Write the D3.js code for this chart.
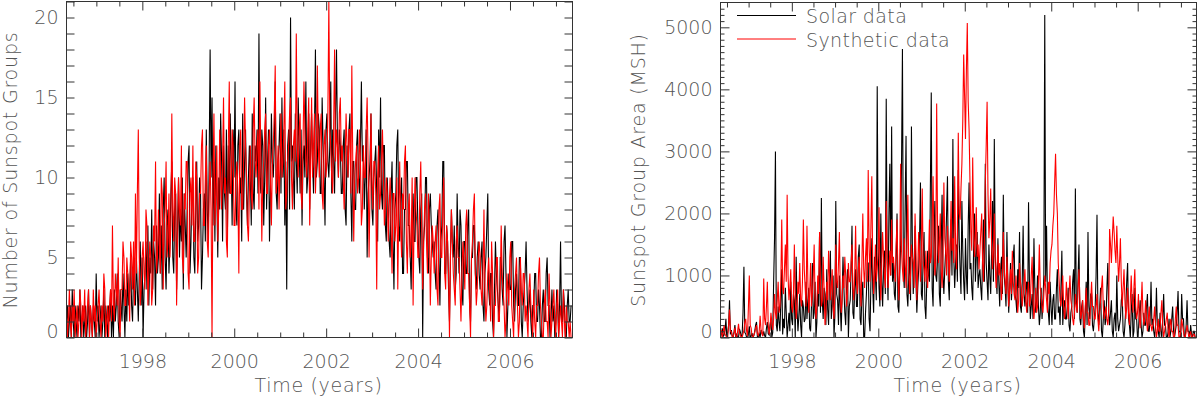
<!DOCTYPE html>
<html>
<head>
<meta charset="utf-8">
<script src="https://cdn.jsdelivr.net/npm/d3@7"></script>
<style>
  body { margin: 0; background: #fff; }
  svg { display: block; }
</style>
</head>
<body>
<svg id="chart" width="1200" height="399"></svg>
<script>
// time sampling of the series (years): one value per week-ish, 48 per year
const startYear = 1996.35;
const stepYear = 1 / 48;

const yearTicks = [1998, 2000, 2002, 2004, 2006];
const groupTicks = [0, 5, 10, 15, 20];
const areaTicks = [0, 1000, 2000, 3000, 4000, 5000];
const legendNames = ["Solar data", "Synthetic data"];

// number of sunspot groups, one line per year of data (from 1996.35)
const solarGroups = [
  1,2,0,1,2,0,3,1,0,2,1,0,2,1,3,0,1,2,0,1,2,0,1,3,0,2,1,0,2,1,0,4,1,2,0,1,2,0,1,3,0,2,1,0,2,1,3,0,
  2,0,3,1,2,4,1,0,3,2,1,4,2,0,3,1,4,2,3,5,2,1,4,3,2,5,3,1,4,6,2,5,0,3,4,6,3,7,2,5,4,8,3,6,5,2,7,4,
  5,9,4,7,3,8,10,5,3,7,8,4,6,9,11,5,4,8,9,3,7,10,5,8,6,10,3,9,7,5,8,11,12,4,6,9,10,5,4,8,11,6,7,10,9,3,5,8,
  9,6,13,8,6,11,18,10,15,7,11,6,12,9,5,10,8,14,11,6,12,9,8,13,6,12,9,14,11,7,13,10,16,8,7,12,13,9,10,6,14,8,11,13,9,7,10,12,
  10,7,14,9,8,12,11,13,9,19,10,9,13,12,7,10,15,8,11,13,6,9,14,11,10,12,16,9,8,11,12,14,9,15,10,13,7,11,3,12,13,8,20,11,12,10,8,14,
  11,9,15,12,9,13,7,11,12,10,16,9,10,14,8,12,14,11,9,13,18,10,11,14,13,9,9,15,12,10,7,13,14,11,10,12,16,9,13,11,9,14,18,12,10,13,12,9,
  9,12,13,8,7,12,10,13,14,9,6,11,11,8,8,12,13,10,9,12,16,11,12,8,10,13,5,9,10,11,14,8,7,10,11,12,9,6,13,10,15,9,8,12,12,7,6,10,
  8,6,5,9,11,6,3,8,9,12,13,7,6,9,10,4,4,8,8,11,11,7,7,5,3,8,9,6,6,10,10,7,5,4,8,9,0,6,7,10,10,5,4,8,9,7,6,5,
  6,4,3,7,8,5,2,6,7,11,11,4,4,7,6,3,1,5,8,6,5,7,3,4,9,6,4,8,7,3,2,6,6,4,4,7,8,2,1,5,5,7,7,4,3,5,6,4,
  3,5,6,2,1,4,5,7,9,3,2,4,4,1,0,3,6,4,3,2,1,5,5,3,2,6,7,4,0,2,4,3,3,6,6,2,1,3,4,2,2,5,5,1,0,2,3,4,
  6,3,1,2,3,1,0,2,2,4,4,1,1,3,2,0,0,2,3,1,1,4,5,2,2,0,1,3,1,2,0,1,3,2,0,2,6,1,1,3,2,0,0,2,3,1,1,2
];
const synthGroups = [
  2,0,1,3,1,0,2,1,3,0,1,2,0,1,3,2,0,2,1,3,0,1,2,3,0,2,1,0,3,1,2,0,1,2,3,1,0,2,1,4,3,0,1,2,0,2,3,1,
  7,2,1,4,3,2,5,1,0,3,3,6,5,2,2,5,4,3,1,6,5,3,6,2,9,4,9,13,5,2,3,5,6,4,3,8,7,2,4,6,5,2,3,7,6,11,4,5,
  8,6,4,10,9,3,7,8,11,5,6,9,5,7,14,8,6,10,9,2,6,10,8,7,12,5,4,9,8,11,11,4,3,9,10,7,12,6,6,11,10,4,5,9,9,12,13,7,
  7,10,12,6,5,9,11,8,0,10,14,7,9,12,6,8,13,10,8,11,15,9,10,6,5,12,16,9,9,13,12,7,7,10,11,9,4,12,13,8,8,11,15,12,10,7,6,9,
  12,9,8,13,15,11,10,12,13,8,16,11,6,10,11,13,14,9,9,12,13,10,7,11,12,14,17,9,10,12,8,11,14,10,11,13,16,8,9,11,12,14,15,10,8,12,13,11,
  19,12,10,13,14,9,8,12,16,13,11,10,13,15,7,11,15,10,12,14,9,11,17,12,10,13,14,9,8,12,13,10,11,14,21,13,12,10,9,13,18,11,13,12,10,14,15,11,
  12,10,8,11,14,12,10,13,13,9,17,11,6,10,11,12,9,10,13,11,7,8,12,10,10,13,15,11,5,9,14,10,8,11,11,9,3,10,12,8,9,11,13,10,7,8,10,9,
  6,8,10,7,4,9,9,6,7,10,3,8,11,7,5,9,8,11,12,6,4,8,9,5,6,10,2,7,10,8,7,5,5,9,11,7,3,6,8,9,6,4,9,7,2,5,7,6,
  4,6,7,3,2,8,9,5,5,8,10,4,3,7,6,4,0,5,8,6,4,3,2,6,7,5,5,3,1,4,6,5,3,7,8,4,4,2,0,5,6,8,9,4,2,3,5,6,
  5,3,2,4,8,3,1,2,4,5,3,1,6,4,0,2,2,5,5,1,1,3,7,4,3,2,0,1,4,3,2,5,6,2,1,0,3,4,5,2,0,1,5,3,2,4,4,1,
  2,1,0,3,4,2,1,0,3,1,0,2,2,4,5,2,1,0,0,2,3,1,1,0,4,2,0,1,2,3,1,0,2,3,0,1,2,1,0,3,1,0,2,1,1,0,1,0
];

// sunspot group area (MSH)
const solarArea = [
  0,60,150,20,40,120,300,0,80,200,600,50,120,30,0,90,200,10,50,0,0,140,90,20,30,400,1140,80,60,0,0,50,180,0,20,70,0,30,100,200,250,0,10,60,0,120,80,30,
  100,30,0,150,250,60,40,200,300,0,80,900,1600,3000,200,100,500,250,100,600,1100,50,300,150,800,400,0,200,400,100,900,300,200,700,600,0,1300,450,100,350,700,200,0,600,500,250,300,900,
  300,600,800,150,100,500,1200,300,400,900,0,250,900,500,1700,400,2250,600,300,800,700,200,1100,450,200,900,1400,300,500,1000,0,350,2200,700,600,200,1000,500,100,650,1300,800,400,200,800,1100,0,500,
  600,1100,1800,400,300,800,1100,500,500,1300,1500,300,200,700,900,0,0,400,700,1200,1200,300,100,900,1600,800,400,1300,1000,600,4050,1500,800,500,2000,900,500,1100,1400,700,3850,1200,600,2000,2800,1000,3400,900,
  1200,700,600,1300,2000,500,400,1000,1500,2800,4650,1100,800,2100,3250,700,500,1000,1300,600,3400,1500,700,1200,1800,900,400,800,1100,1600,2500,700,600,1300,1700,500,300,900,1400,1000,900,2400,3950,800,500,1500,2200,1000,
  900,1300,1800,700,500,1400,2300,1000,700,1100,1400,2000,2600,900,600,1500,1900,1000,3200,1300,800,1200,1500,900,2700,1600,1100,700,2200,1400,900,600,1600,1000,700,1800,2500,1100,1200,800,600,1400,2000,900,1300,1700,800,1000,
  1100,800,600,1300,1900,900,2800,1200,900,600,1500,1000,700,1400,2200,900,3200,1300,1000,700,1600,900,500,1100,1300,700,2300,1000,800,500,1700,900,400,800,1200,600,900,1300,1500,700,600,400,1100,800,1700,500,400,900,
  1800,700,500,800,900,400,2180,900,300,500,700,300,1600,800,400,600,1000,500,200,400,800,300,600,1000,5200,900,1800,600,400,200,900,500,200,600,700,300,300,800,1100,400,500,200,800,1400,200,500,600,300,
  300,500,800,200,100,400,500,900,1100,300,2400,600,400,1000,1500,300,200,500,600,100,0,400,900,200,1700,500,300,700,700,200,100,300,500,1000,1980,400,200,500,800,100,0,300,600,200,300,800,1200,400,
  200,400,600,100,0,300,400,100,1000,300,100,200,300,600,700,100,0,200,500,900,1200,300,200,0,400,700,0,100,800,300,300,0,100,400,600,200,0,100,400,200,200,500,700,100,100,300,900,200,
  300,100,0,200,800,200,100,0,400,100,0,300,700,200,200,0,0,100,300,0,100,300,500,100,0,100,200,400,750,100,100,0,700,300,300,0,0,200,600,100,100,0,200,50,0,100,100,0
];
const synthArea = [
  60,120,0,80,200,50,30,0,0,200,450,100,90,0,10,70,160,30,0,100,220,80,40,0,0,60,120,250,300,100,20,500,1000,200,150,30,0,40,80,150,200,60,30,100,350,120,60,20,
  950,300,200,500,900,200,50,150,400,250,120,300,700,400,300,600,900,400,500,900,1900,800,700,1100,1500,900,2300,1000,600,800,1100,500,400,700,1500,600,300,500,900,700,1200,600,500,900,1900,1100,800,500,
  1800,900,400,700,1200,500,700,1000,1500,600,300,500,1000,700,1700,900,500,600,1300,800,200,400,900,600,1400,1000,600,800,1100,500,300,700,1500,900,800,1200,1700,700,400,600,1000,800,1300,1000,500,700,1200,900,
  900,1200,1500,800,600,1000,1800,900,700,1100,1300,800,500,1200,2000,1100,800,1300,1600,900,2700,1500,900,1800,2600,1200,700,1000,1500,900,1100,1400,2100,1000,600,1200,1700,1300,1000,800,2200,1400,800,1100,1400,1000,1900,1200,
  1300,1100,900,1500,1900,1000,600,1200,2800,1400,1100,900,1600,1200,800,1500,2300,1100,700,1000,1500,1300,1200,800,2000,1400,600,1100,1700,1300,900,1400,2400,1200,1100,900,1400,1000,800,1300,1900,1200,1300,1800,2600,1500,1000,1200,
  3770,1800,1200,1500,2000,1100,800,1300,2500,1600,1400,1000,1800,1300,900,1500,2200,1400,1600,1200,2600,1500,1100,1700,3300,2000,1900,2400,2800,3500,4560,3900,3200,4300,5070,3800,3350,2500,1700,1400,2900,1800,1300,1600,2100,1300,1500,1100,
  1400,1700,2000,1200,900,1600,2500,3100,3800,2300,1600,1900,2400,1500,1100,1400,2000,1200,800,1100,1500,1000,1200,900,600,1000,1700,1100,900,700,1300,900,500,800,1100,700,1400,900,700,600,1000,700,400,600,1200,900,800,500,
  700,900,1100,600,400,700,900,500,600,1000,1300,600,300,500,800,400,500,900,1500,800,700,500,400,700,1000,800,600,400,900,700,1200,1400,1500,1800,2000,2500,2960,2300,2000,1200,900,600,500,700,1000,500,300,500,
  900,600,300,700,1000,600,500,300,200,400,700,500,400,800,1100,600,300,400,600,300,150,500,800,400,400,200,200,600,900,500,500,300,300,500,700,300,100,400,600,800,1000,500,300,400,500,300,200,400,
  1750,1500,1200,1600,1950,1700,1400,1200,1800,1300,900,1200,1600,900,500,800,1100,600,300,500,800,400,200,600,1000,600,400,800,1100,500,300,400,700,300,150,500,900,400,200,300,600,300,100,300,500,200,200,100,
  200,300,500,200,0,100,300,100,100,400,600,200,0,100,200,300,400,100,0,200,300,100,100,0,0,300,500,200,200,0,0,100,300,200,100,0,0,100,200,100,0,50,100,0,0,50,50,0
];

const svg = d3.select("#chart");
const fontFamily = "'DejaVu Sans', sans-serif";
const textColor = "#555";
const frameColor = "#333";

const xDomain = [1996.35, 2007.36];
const minorYears = d3.range(1996.5, 2007.3, 0.5).filter(v => v % 2 !== 0);

// thin grey labels, slightly spread like the original plotting font
function setText(sel, spacing) {
  return sel
    .attr("font-family", fontFamily)
    .attr("font-weight", 200)
    .attr("font-size", 19)
    .attr("letter-spacing", spacing)
    .attr("fill", textColor);
}

function drawPanel(cfg) {
  const x = d3.scaleLinear().domain(xDomain).range([cfg.left, cfg.right]);
  const y = d3.scaleLinear().domain(cfg.yDomain).range([cfg.bottom, cfg.top]);
  const g = svg.append("g");

  const clipId = "clip-" + cfg.id;
  svg.append("clipPath").attr("id", clipId)
    .append("rect")
    .attr("x", cfg.left).attr("y", cfg.top)
    .attr("width", cfg.right - cfg.left).attr("height", cfg.bottom - cfg.top);

  const line = d3.line()
    .x((d, i) => x(startYear + i * stepYear))
    .y(d => y(d));

  // black first, red drawn over it
  g.append("path")
    .datum(cfg.solar)
    .attr("clip-path", `url(#${clipId})`)
    .attr("fill", "none")
    .attr("stroke", "#000")
    .attr("stroke-width", 1.1)
    .attr("d", line);
  g.append("path")
    .datum(cfg.synth)
    .attr("clip-path", `url(#${clipId})`)
    .attr("fill", "none")
    .attr("stroke", "#ff0000")
    .attr("stroke-width", 1.1)
    .attr("d", line);

  // ticks on all four sides, pointing inward
  const styleAxis = sel => {
    sel.selectAll(".domain").remove();
    sel.selectAll("line").attr("stroke", frameColor);
    setText(sel.selectAll("text"), 0);
  };

  g.append("g").attr("transform", `translate(0,${cfg.bottom})`)
    .call(d3.axisBottom(x).tickValues(yearTicks).tickFormat(d3.format("d"))
      .tickSize(-9).tickPadding(17))
    .call(styleAxis);
  g.append("g").attr("transform", `translate(0,${cfg.bottom})`)
    .call(d3.axisBottom(x).tickValues(minorYears).tickFormat("").tickSize(-5))
    .call(styleAxis);
  g.append("g").attr("transform", `translate(0,${cfg.top})`)
    .call(d3.axisTop(x).tickValues(yearTicks).tickFormat("").tickSize(-9))
    .call(styleAxis);
  g.append("g").attr("transform", `translate(0,${cfg.top})`)
    .call(d3.axisTop(x).tickValues(minorYears).tickFormat("").tickSize(-5))
    .call(styleAxis);

  const yLeft = g.append("g").attr("transform", `translate(${cfg.left},0)`)
    .call(d3.axisLeft(y).tickValues(cfg.yTicks).tickFormat(d3.format("d"))
      .tickSize(-cfg.majorLen).tickPadding(8))
    .call(styleAxis);
  // the 0 label sits on top of the lower axis
  yLeft.selectAll(".tick text").filter(d => d === 0).attr("dy", "0em");

  g.append("g").attr("transform", `translate(${cfg.left},0)`)
    .call(d3.axisLeft(y).tickValues(cfg.yMinor).tickFormat("").tickSize(-cfg.minorLen))
    .call(styleAxis);
  g.append("g").attr("transform", `translate(${cfg.right},0)`)
    .call(d3.axisRight(y).tickValues(cfg.yTicks).tickFormat("").tickSize(-cfg.majorLen))
    .call(styleAxis);
  g.append("g").attr("transform", `translate(${cfg.right},0)`)
    .call(d3.axisRight(y).tickValues(cfg.yMinor).tickFormat("").tickSize(-cfg.minorLen))
    .call(styleAxis);

  g.append("rect")
    .attr("x", cfg.left).attr("y", cfg.top)
    .attr("width", cfg.right - cfg.left).attr("height", cfg.bottom - cfg.top)
    .attr("fill", "none")
    .attr("stroke", frameColor)
    .attr("stroke-width", 1);

  // axis titles
  g.append("text")
    .attr("x", (cfg.left + cfg.right) / 2 - 1)
    .attr("y", 392)
    .attr("text-anchor", "middle")
    .call(setText, 0.7)
    .text("Time (years)");
  g.append("text")
    .attr("transform", `translate(${cfg.titleX},170) rotate(-90)`)
    .attr("text-anchor", "middle")
    .call(setText, 0.8)
    .text(cfg.yTitle);

  return { x, y, g };
}

drawPanel({
  id: "groups", left: 66.5, right: 572.5, top: 1.5, bottom: 337.5,
  yDomain: [0, 21], yTicks: groupTicks,
  yMinor: d3.range(0, 22).filter(v => v % 5 !== 0),
  majorLen: 8, minorLen: 8,
  solar: solarGroups, synth: synthGroups,
  titleX: 17, yTitle: "Number of Sunspot Groups"
});

const right = drawPanel({
  id: "area", left: 720.5, right: 1196.5, top: 2.5, bottom: 337.5,
  yDomain: [0, 5400], yTicks: areaTicks,
  yMinor: d3.range(100, 5400, 100).filter(v => v % 1000 !== 0),
  majorLen: 9, minorLen: 4,
  solar: solarArea, synth: synthArea,
  titleX: 645, yTitle: "Sunspot Group Area (MSH)"
});

// legend
const legend = right.g.append("g");
legendNames.forEach((name, i) => {
  const ly = 15.5 + i * 23.5;
  legend.append("line")
    .attr("x1", 737).attr("x2", 796)
    .attr("y1", ly).attr("y2", ly)
    .attr("stroke", i === 0 ? "#000" : "#ff0000")
    .attr("stroke-width", 1);
  legend.append("text")
    .attr("x", 806).attr("y", ly + 7.5)
    .call(setText, 0.4)
    .text(name);
});
</script>
</body>
</html>
